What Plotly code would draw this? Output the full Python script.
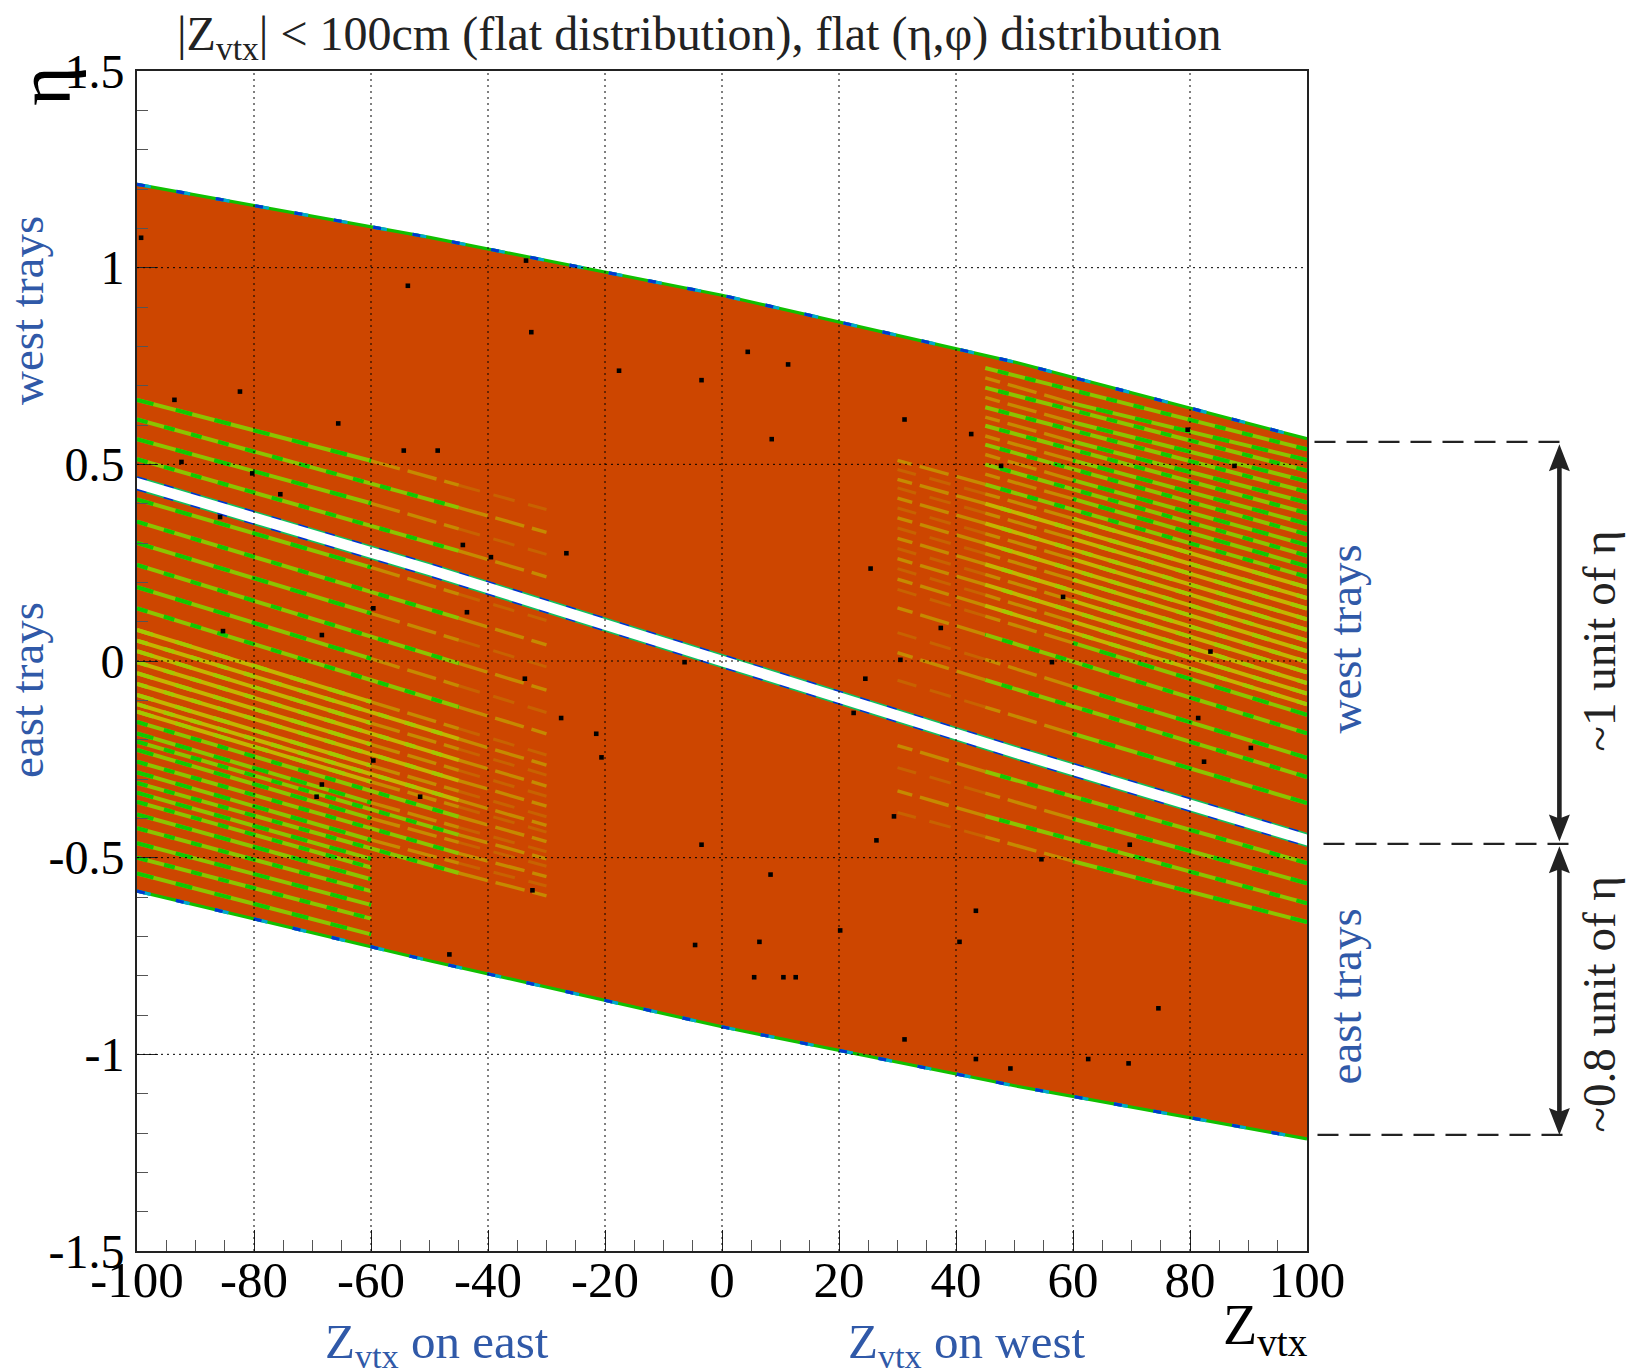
import plotly.graph_objects as go

# ---------- values ----------
x_ticks = [-100, -80, -60, -40, -20, 0, 20, 40, 60, 80, 100]
x_tick_labels = ["-100", "-80", "-60", "-40", "-20", "0", "20", "40", "60", "80", "100"]
y_ticks = [-1.5, -1, -0.5, 0, 0.5, 1, 1.5]
y_tick_labels = ["-1.5", "-1", "-0.5", "0", "0.5", "1", "1.5"]

edge_z = [-100, -50, 0, 50, 100]
band_top = [1.212, 1.077, 0.930, 0.760, 0.565]
band_bottom = [-0.585, -0.762, -0.930, -1.080, -1.215]
gap_top = [0.466, 0.246, 0.014, -0.218, -0.441]
gap_bottom = [0.438, 0.218, -0.014, -0.246, -0.469]

left_z = [-100, -60, -45, -30]
left_at_m100 = [0.664, 0.614, 0.564, 0.513, 0.411, 0.354, 0.300, 0.244, 0.188, 0.134, 0.079, 0.052, 0.025,
                -0.003, -0.031, -0.058, -0.086, -0.110, -0.129, -0.155, -0.184, -0.205, -0.226, -0.256,
                -0.283, -0.310, -0.335, -0.358, -0.390, -0.425, -0.463, -0.500, -0.540]
left_at_m60 = [0.509, 0.454, 0.401, 0.346, 0.238, 0.177, 0.121, 0.063, 0.006, -0.049, -0.104, -0.131, -0.158,
               -0.185, -0.212, -0.239, -0.266, -0.289, -0.307, -0.332, -0.360, -0.380, -0.400, -0.430,
               -0.455, -0.480, -0.503, -0.525, -0.555, -0.585, -0.620, -0.655, -0.695]
left_at_m45 = [0.447, 0.390, 0.336, 0.280, 0.170, 0.109, 0.053, -0.006, -0.063, -0.117, -0.172, -0.198, -0.224,
               -0.252, -0.278, -0.304, -0.331, -0.354, -0.371, -0.396, -0.423, -0.442, -0.461, -0.489,
               -0.514, -0.539, None, None, None, None, None, None, None]
left_at_m30 = [0.385, 0.327, 0.271, 0.214, 0.103, 0.041, -0.015, -0.074, -0.131, -0.185, -0.239, -0.265, -0.290,
               -0.318, -0.344, -0.369, -0.396, -0.418, -0.435, -0.459, -0.485, -0.503, -0.522, -0.548,
               -0.572, -0.597, None, None, None, None, None, None, None]
left_tone = ["g"] * 10 + ["y"] * 9 + ["g"] * 14

right_z = [100, 60, 45, 30]
right_at_p100 = [-0.664, -0.616, -0.565, -0.514, -0.361, -0.295, -0.246, -0.184, -0.137, -0.110, -0.083, -0.056,
                 -0.029, -0.002, 0.025, 0.052, 0.079, 0.106, 0.133, 0.160, 0.187, 0.214, 0.241, 0.268, 0.295,
                 0.322, 0.349, 0.376, 0.403, 0.430, 0.457, 0.484, 0.511, 0.538]
right_at_p60 = [-0.509, -0.457, -0.401, -0.347, -0.185, -0.116, -0.065, -0.002, 0.046, 0.073, 0.100, 0.127,
                0.153, 0.180, 0.207, 0.233, 0.259, 0.285, 0.311, 0.337, 0.362, 0.387, 0.412, 0.436, 0.460,
                0.487, 0.510, 0.537, 0.558, 0.583, 0.607, 0.632, 0.655, 0.680]
right_at_p45 = [-0.447, -0.394, -0.336, -0.281, -0.117, -0.048, 0.004, 0.067, 0.114, 0.141, 0.168, 0.194,
                0.220, 0.246, 0.273, 0.299, 0.324, 0.350, 0.376, 0.400, 0.425, 0.449, 0.475, 0.500, 0.525,
                0.550, 0.572, 0.598, 0.620, 0.645, 0.670, 0.695, 0.720, 0.745]
right_at_p30 = [-0.385, -0.330, -0.271, -0.215, -0.049, 0.021, 0.072, 0.135, 0.182, 0.208, 0.235, 0.260,
                0.286, 0.312, 0.338, 0.364, 0.389, 0.414, 0.440, 0.462, 0.487, 0.510, None, None, None,
                None, None, None, None, None, None, None, None, None]
right_tone = ["g"] * 9 + ["y"] * 12 + ["g"] * 13

dead_z = [-99.3, -53.7, -33.5, -32.6, -17.6, -3.5, 4.4, 11.3, -93.6, -82.4, -65.6, -54.4, -48.6, -92.4, -80.3,
          -75.5, -85.8, -44.3, -39.5, -26.6, 8.5, 31.2, 42.6, 47.7, 79.6, 87.6, 25.4, 37.4, 58.3, 56.4, 83.5,
          30.5, 24.5, -6.4, -59.6, -43.6, -33.7, -27.5, -21.5, -20.6, -59.6, -68.4, -51.6, -69.3, 81.4, 82.4,
          90.4, 22.5, 29.4, 26.4, -3.5, 69.7, 54.6, -32.4, 8.3, 43.4, 20.2, -4.6, 6.4, 40.6, 5.5, 10.5, 12.6,
          74.6, 31.2, 43.4, 49.3, 62.6, 69.5, -46.6, -85.3, -68.4]
dead_eta = [1.076, 0.954, 1.018, 0.836, 0.738, 0.714, 0.786, 0.754, 0.664, 0.685, 0.604, 0.535, 0.535, 0.506, 0.477,
            0.424, 0.366, 0.295, 0.264, 0.274, 0.564, 0.614, 0.577, 0.496, 0.588, 0.496, 0.235, 0.084, 0.163, -0.003, 0.024,
            0.003, -0.045, -0.003, 0.134, 0.124, -0.045, -0.145, -0.185, -0.245, -0.253, -0.314, -0.345, -0.345, -0.145, -0.256,
            -0.221, -0.132, -0.395, -0.456, -0.467, -0.467, -0.504, -0.583, -0.543, -0.635, -0.685, -0.722, -0.714, -0.714, -0.804, -0.804, -0.804,
            -0.883, -0.962, -1.012, -1.036, -1.012, -1.023, -0.746, 0.076, 0.066]

west_end_eta = 0.557
split_eta = -0.465
east_end_eta = -1.205

# ---------- styles ----------
W, H = 1627, 1372
L, R, T, B = 137, 1307.5, 71, 1251
SERIF = "Liberation Serif"
BLUE = "#3059a8"
DARK = "#222222"
BASE = "#cd4600"
SOLID = {"y": "#c4b400", "g": "#8cc400"}
OVER = {"y": "#a4c800", "g": "#10c800"}
MEDIUM = "#c68a00"
FAINT = "#c86200"


def px(x):
    return (x - L) / (R - L)


def py(y):
    return (B - y) / (B - T)


def line(xs, ys, color, width, dash=None):
    return go.Scatter(x=xs, y=ys, mode="lines", hoverinfo="skip", showlegend=False,
                      line=dict(color=color, width=width, dash=dash))


fig = go.Figure()

# orange body of the acceptance band
fig.add_trace(go.Scatter(x=edge_z + edge_z[::-1], y=band_top + band_bottom[::-1], fill="toself",
                         fillcolor=BASE, mode="none", hoverinfo="skip", showlegend=False))

# stripes: each one runs from the plot edge inwards and fades; neighbours fade at different places
groups = {}


def add(key, z0, z1, e0, e1):
    if e0 is None or e1 is None:
        return
    xs, ys = groups.setdefault(key, ([], []))
    xs += [z0, z1, None]
    ys += [e0, e1, None]


for zs, a, b, c, d, tones in ((left_z, left_at_m100, left_at_m60, left_at_m45, left_at_m30, left_tone),
                              (right_z, right_at_p100, right_at_p60, right_at_p45, right_at_p30, right_tone)):
    for i, tone in enumerate(tones):
        if i % 2 == 0 or c[i] is None:
            add(("strong", tone, i % 2), zs[0], zs[1], a[i], b[i])
            add("medium", zs[1], zs[2], b[i], c[i])
            add("faint", zs[2], zs[3], c[i], d[i])
        else:
            add(("strong", tone, i % 2), zs[0], zs[2], a[i], c[i])
            add("medium", zs[2], zs[3], c[i], d[i])

fig.add_trace(line(*groups["faint"], FAINT, 3, "22px,14px"))
fig.add_trace(line(*groups["medium"], MEDIUM, 3.4, "30px,8px"))
for key, (xs, ys) in groups.items():
    if isinstance(key, tuple):
        _, tone, parity = key
        fig.add_trace(line(xs, ys, SOLID[tone], 4))
        fig.add_trace(line(xs, ys, OVER[tone], 4, "11px,17px" if parity else "17px,23px"))

# coloured fringes of the band edges
for arr in (band_top, band_bottom):
    fig.add_trace(line(edge_z, arr, "#10c000", 3.2))
    fig.add_trace(line(edge_z, arr, "#00a8d0", 3.2, "14px,26px"))
    fig.add_trace(line(edge_z, arr, "#0038d0", 3.2, "8px,32px"))

# the gap between east and west trays
for arr in (gap_top, gap_bottom):
    fig.add_trace(line(edge_z, arr, "#10c060", 3.2))
    fig.add_trace(line(edge_z, arr, "#0030d0", 3.2, "10px,18px"))
fig.add_trace(go.Scatter(x=edge_z + edge_z[::-1], y=gap_top + gap_bottom[::-1], fill="toself",
                         fillcolor="white", mode="none", hoverinfo="skip", showlegend=False))

# empty (black) cells
fig.add_trace(go.Scatter(x=dead_z, y=dead_eta, mode="markers", hoverinfo="skip", showlegend=False,
                         marker=dict(symbol="square", size=4.6, color="black", line=dict(width=0))))

shapes = []
for v in x_ticks[1:-1]:
    shapes.append(dict(type="line", xref="x", yref="y", x0=v, x1=v, y0=-1.5, y1=1.5, layer="above",
                       line=dict(color="black", width=1, dash="2px,4px")))
for v in y_ticks[1:-1]:
    shapes.append(dict(type="line", xref="x", yref="y", x0=-100, x1=100, y0=v, y1=v, layer="above",
                       line=dict(color="black", width=1, dash="2px,4px")))
for eta, x0, x1 in ((west_end_eta, 1315, 1562), (split_eta, 1324, 1570), (east_end_eta, 1318, 1564)):
    shapes.append(dict(type="line", xref="paper", yref="y", x0=px(x0), x1=px(x1), y0=eta, y1=eta,
                       line=dict(color=DARK, width=2.2, dash="21px,11px")))

# double arrows on the right
ax = px(1560)
hw = 10.5 / (R - L)
hl, notch = 27 / 393.3, 23 / 393.3
for hi, lo in ((west_end_eta, split_eta), (split_eta, east_end_eta)):
    shapes.append(dict(type="line", xref="paper", yref="y", x0=ax, x1=ax, y0=hi - notch, y1=lo + notch,
                       line=dict(color=DARK, width=4.6)))
    for tip, sgn in ((hi - 0.006, -1), (lo + 0.006 if lo != east_end_eta else lo, 1)):
        path = (f"M {ax},{tip} L {ax + hw},{tip + sgn * hl} L {ax},{tip + sgn * notch} "
                f"L {ax - hw},{tip + sgn * hl} Z")
        shapes.append(dict(type="path", xref="paper", yref="y", path=path, fillcolor=DARK,
                           line=dict(color=DARK, width=0)))

ann = []


def text(x, y, s, size, color="black", angle=0):
    ann.append(dict(xref="paper", yref="paper", x=px(x), y=py(y), text=s, showarrow=False, textangle=angle,
                    xanchor="center", yanchor="middle", font=dict(family=SERIF, size=size, color=color)))


Zv = "Z<sub>vtx</sub>"
text(700, 37, "|" + Zv + "| &lt; 100cm (flat distribution), flat (η,φ) distribution", 48, "#222222")
text(44, 86, "η", 76, "black", -90)
text(27, 311, "west trays", 47, BLUE, -90)
text(27, 690, "east trays", 47, BLUE, -90)
text(1346, 639, "west trays", 47, BLUE, -90)
text(1346, 996, "east trays", 47, BLUE, -90)
text(1600, 641, "~1 unit of η", 47, DARK, -90)
text(1600, 1004, "~0.8 unit of η", 47, DARK, -90)
text(437, 1344, Zv + " on east", 49, BLUE)
text(967, 1344, Zv + " on west", 49, BLUE)
text(1266, 1329, Zv, 56, "black")

fig.update_layout(
    width=W, height=H, autosize=False, paper_bgcolor="white", plot_bgcolor="white", showlegend=False,
    margin=dict(l=L, r=W - R, t=T, b=H - B, pad=0), shapes=shapes, annotations=ann,
    font=dict(family=SERIF, color="black"),
    xaxis=dict(range=[-100, 100], tickvals=x_ticks, ticktext=x_tick_labels, ticks="inside", ticklen=21, tickwidth=1,
               tickcolor="#222222", showgrid=False, zeroline=False, showline=True, mirror=True, linecolor="#222222",
               linewidth=2, tickfont=dict(family=SERIF, size=51), ticklabelstandoff=-17,
               minor=dict(dtick=5, tick0=0, ticks="inside", ticklen=11, tickwidth=1, tickcolor="#555555", showgrid=False)),
    yaxis=dict(range=[-1.5, 1.5], tickvals=y_ticks, ticktext=y_tick_labels, ticks="inside", ticklen=21, tickwidth=1,
               tickcolor="#222222", showgrid=False, zeroline=False, showline=True, mirror=True, linecolor="#222222",
               linewidth=2, tickfont=dict(family=SERIF, size=48), ticklabelstandoff=1,
               minor=dict(dtick=0.1, tick0=0, ticks="inside", ticklen=11, tickwidth=1, tickcolor="#555555", showgrid=False)),
)

fig.write_html("out.html", config={"displayModeBar": False},
               post_script="document.body.style.margin='0';document.documentElement.style.overflow='hidden';")
